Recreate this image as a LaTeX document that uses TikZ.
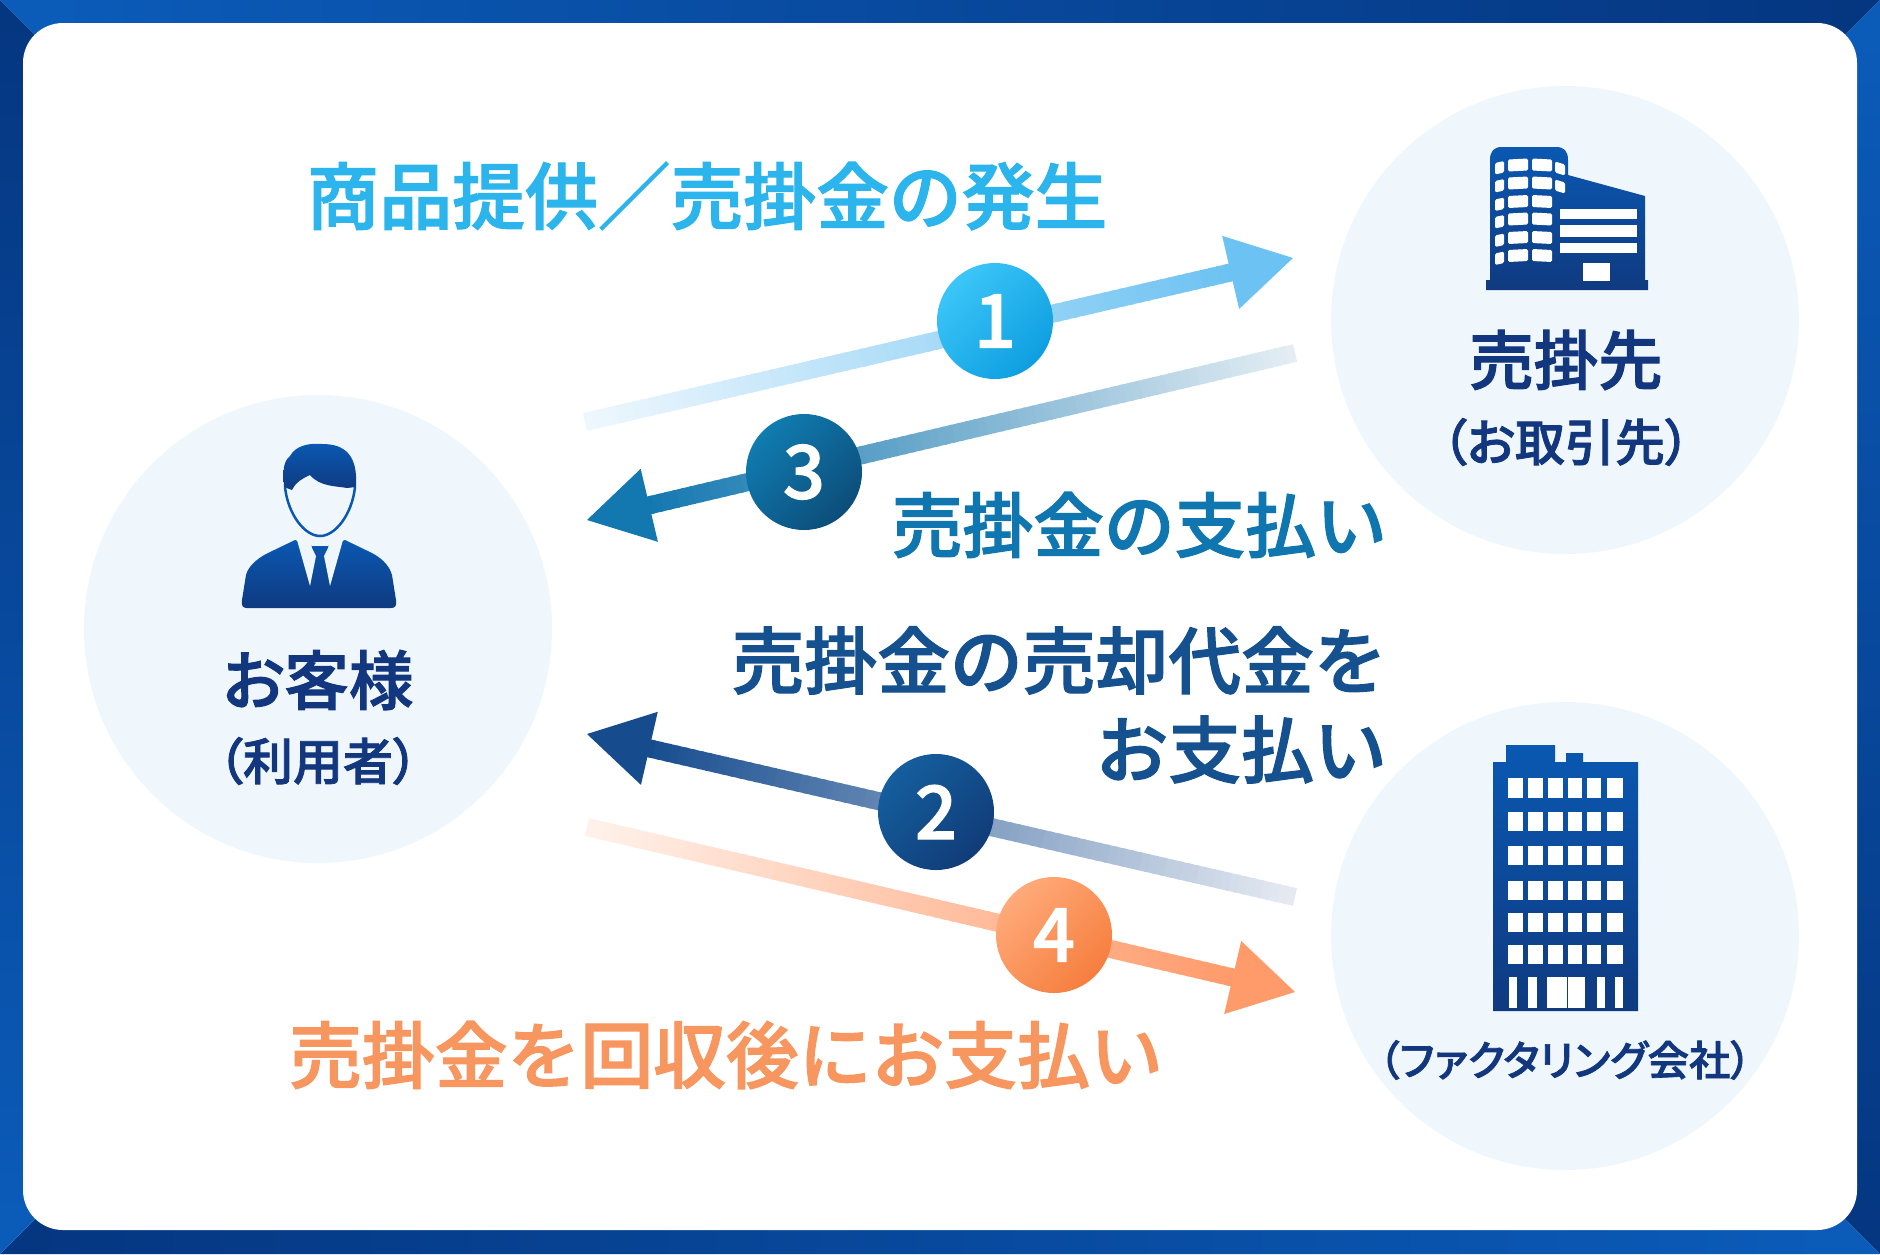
\documentclass[tikz,border=0pt]{standalone}
\usepackage{fontspec}
\usetikzlibrary{calc}
\newfontfamily\cjk[RawFeature=+palt,FakeBold=1.6]{Noto Sans CJK JP Medium}
\newfontfamily\cjkfull[FakeBold=1.6]{Noto Sans CJK JP Medium}
\definecolor{cyantext}{HTML}{2BB5EC}
\definecolor{tealtext}{HTML}{0F76AF}
\definecolor{navytext}{HTML}{15508F}
\definecolor{orangetext}{HTML}{F8965F}
\definecolor{labeltext}{HTML}{12377F}
\definecolor{disc}{HTML}{EFF7FD}
\definecolor{icontop}{HTML}{0A58B2}
\definecolor{iconbot}{HTML}{0F3A80}
\definecolor{fbright}{HTML}{0B5CBA}
\definecolor{fdark}{HTML}{053680}
\definecolor{a1t}{HTML}{EEF7FD}\definecolor{a1h}{HTML}{6CC2F2}
\definecolor{a3t}{HTML}{E3EDF3}\definecolor{a3h}{HTML}{1377B0}
\definecolor{a2t}{HTML}{E5EAF2}\definecolor{a2h}{HTML}{164C8E}
\definecolor{a4t}{HTML}{FFF1EA}\definecolor{a4h}{HTML}{FF9A6A}
\definecolor{n1a}{HTML}{3CC6F8}\definecolor{n1b}{HTML}{0E9EE0}
\definecolor{n2a}{HTML}{155E9E}\definecolor{n2b}{HTML}{103C78}
\definecolor{n3a}{HTML}{107CB0}\definecolor{n3b}{HTML}{0C4D7A}
\definecolor{n4a}{HTML}{FFAA7A}\definecolor{n4b}{HTML}{F67E3E}
\tikzset{
  discnode/.style={circle,fill=disc,minimum size=468pt,inner sep=0pt},
  numnode/.style={circle,minimum size=116pt,inner sep=0pt,text=white,font=\cjkfull\fontsize{74}{74}\selectfont},
  msg/.style={inner sep=0pt,font=\cjkfull\fontsize{72.8}{89}\selectfont},
  lab/.style={inner sep=0pt,text=labeltext,font=\cjk\fontsize{64.5}{70}\selectfont},
  sublab/.style={inner sep=0pt,text=labeltext,font=\cjk\fontsize{50}{56}\selectfont},
  iconfill/.style={top color=icontop,bottom color=iconbot},
  hole/.style={fill=white},
}
% tail, tip, tail colour, tip colour
\newcommand{\gradarrow}[4]{%
  \coordinate (hb) at ($(#2)!60pt!(#1)$);
  \foreach \k in {0,...,79}{%
    \pgfmathsetmacro\ta{\k/80}\pgfmathsetmacro\tb{min(1,(\k+1.4)/80)}%
    \pgfmathtruncatemacro\mixp{100*\k/79}%
    \draw[line width=18pt,color=#4!\mixp!#3] ($(#1)!\ta!(hb)$) -- ($(#1)!\tb!(hb)$);
  }%
  \coordinate (hc) at ($(#2)!64pt!(#1)$);
  \fill[#4] (#2) -- ($(hc)!37.5pt!90:(#2)$) -- ($(hc)!37.5pt!-90:(#2)$) -- cycle;
}
\begin{document}
\begin{tikzpicture}[x=1pt,y=-1pt]
\useasboundingbox (0,0) rectangle (1880,1254);
% frame
\shade[left color=fbright,right color=fdark] (0,0) -- (1880,0) -- (1840,40) -- (40,40) -- cycle;
\shade[left color=fdark,right color=fbright] (0,1254) -- (1880,1254) -- (1840,1214) -- (40,1214) -- cycle;
\shade[top color=fdark,bottom color=fbright] (0,0) -- (40,40) -- (40,1214) -- (0,1254) -- cycle;
\shade[top color=fbright,bottom color=fdark] (1880,0) -- (1840,40) -- (1840,1214) -- (1880,1254) -- cycle;
\fill[white,rounded corners=40pt] (23,23) rectangle (1857,1230);
% discs
\node[discnode] (customer) at (318,629) {};
\node[discnode] (seller) at (1565,320) {};
\node[discnode] (factor) at (1565,936) {};
% arrows
\coordinate (t1) at (585,422); \coordinate (h1) at (1293,258);
\coordinate (t3) at (1295,353); \coordinate (h3) at (587,520);
\coordinate (t2) at (1295,897); \coordinate (h2) at (587,734);
\coordinate (t4) at (587,827); \coordinate (h4) at (1295,992);
\gradarrow{t1}{h1}{a1t}{a1h}
\gradarrow{t3}{h3}{a3t}{a3h}
\gradarrow{t2}{h2}{a2t}{a2h}
\gradarrow{t4}{h4}{a4t}{a4h}
% number circles
\node[numnode,top color=n1a,bottom color=n1b,shading angle=45] (n1) at (995,321) {1};
\node[numnode,top color=n3a,bottom color=n3b,shading angle=45] (n3) at (804,472) {3};
\node[numnode,top color=n2a,bottom color=n2b,shading angle=45] (n2) at (936,812) {2};
\node[numnode,top color=n4a,bottom color=n4b,shading angle=45] (n4) at (1054,935) {4};
% messages
\node[msg,text=cyantext] (m1) at (707,196) {商品提供／売掛金の発生};
\node[msg,text=tealtext,anchor=east,font=\cjkfull\fontsize{70.7}{89}\selectfont] (m3) at (1387,525) {売掛金の支払い};
\node[msg,text=navytext,anchor=east,align=right] (m2) at (1387,705) {売掛金の売却代金を\\お支払い};
\node[msg,text=orangetext] (m4) at (726,1055) {売掛金を回収後にお支払い};
% labels
\node[lab] (l1) at (318,680) {お客様};
\node[sublab] (l1s) at (318,761) {（利用者）};
\node[lab] (l2) at (1566,360) {売掛先};
\node[sublab] (l2s) at (1566,442) {（お取引先）};
\node[sublab,font=\cjk\fontsize{41.4}{48}\selectfont] (l3s) at (1565,1060) {（ファクタリング会社）};
% person icon
\shade[iconfill] (284,487) .. controls (283,470) and (283,462) .. (290,456) .. controls (296,445) and (310,443) .. (322,444) .. controls (345,444) and (358,455) .. (356,487) -- (347,488) .. controls (337,486) and (320,487) .. (310,475) .. controls (303,478) and (296,482) .. (292,490) -- cycle;
\draw[icontop,line width=2.5pt] (285,487) .. controls (288,515) and (305,536) .. (320,536) .. controls (335,536) and (352,515) .. (355,487);
\shade[iconfill] (295,540) -- (312,546) -- (328,546) -- (345,540) -- (372,553) .. controls (385,560) and (390,568) .. (392,575) -- (396,600) .. controls (397,606) and (395,608) .. (391,608) -- (247,608) .. controls (243,608) and (241,606) .. (242,600) -- (246,575) .. controls (248,568) and (254,560) .. (268,553) -- cycle;
\fill[disc] (297,540) -- (311,544) -- (312,548) -- (316,556) -- (310,586) -- cycle;
\fill[disc] (343,540) -- (329,544) -- (328,548) -- (324,556) -- (330,586) -- cycle;
% office building
\shade[iconfill] (1490,282) -- (1490,160) .. controls (1490,151) and (1494,147) .. (1502,147) -- (1556,147) .. controls (1564,147) and (1568,151) .. (1568,160) -- (1568,175) -- (1645,196) -- (1645,280) -- (1648,280) -- (1648,290) -- (1486,290) -- (1486,280) -- (1490,280) -- cycle;
\foreach \y in {158.5,176.5,195,212.5,231,249}{
  \fill[hole,rounded corners=1.5pt] (1495,\y+4.5) -- (1504,\y+2.5) -- (1504,\y+14) -- (1495,\y+16) -- cycle;
  \fill[hole,rounded corners=1.5pt] (1508,\y+1) -- (1528,\y) -- (1528,\y+12) -- (1508,\y+13) -- cycle;
  \fill[hole,rounded corners=1.5pt] (1532,\y) -- (1552,\y+1) -- (1552,\y+13) -- (1532,\y+12) -- cycle;
}
\foreach \y in {158.5,176.5}{
  \fill[hole,rounded corners=1.5pt] (1555,\y+3) -- (1565,\y+6) -- (1565,\y+17) -- (1555,\y+14) -- cycle;
}
\foreach \a/\b in {209/219,225/237,243/253}{ \fill[hole] (1560,\a) rectangle (1637,\b); }
\fill[hole] (1583,263) rectangle (1610,281);
% factoring building
\shade[iconfill] (1493,1011) -- (1493,762) -- (1506,762) -- (1506,745) -- (1555,745) -- (1555,762) -- (1566,762) -- (1566,753) -- (1583,753) -- (1583,762) -- (1638,762) -- (1638,1011) -- cycle;
\foreach \a/\b in {778/798,812/831,846/865,881/900,913/932,945/964}{
  \foreach \c/\d in {1508/1523,1528/1543,1548/1563,1568/1582,1587/1601,1607/1623}{
    \fill[hole] (\c,\a) rectangle (\d,\b);
  }
}
\foreach \c/\d in {1509/1517,1528/1537,1547/1567,1568/1585,1597/1605,1615/1623}{
  \fill[hole] (\c,977) rectangle (\d,1008);
}
\end{tikzpicture}
\end{document}
